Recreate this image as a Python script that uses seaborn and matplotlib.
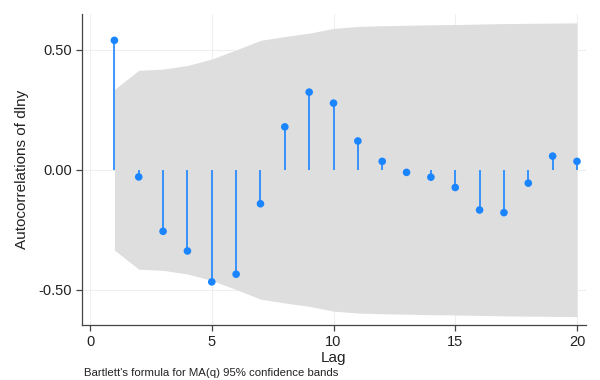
import numpy as np
import pandas as pd
from matplotlib import pyplot as plt
import seaborn as sns

# values
lags = list(range(1, 21))
acf = [0.54, -0.03, -0.257, -0.339, -0.468, -0.436, -0.142, 0.179, 0.324, 0.278,
       0.12, 0.035, -0.011, -0.031, -0.074, -0.168, -0.179, -0.056, 0.057, 0.035]
band = [0.335, 0.415, 0.42, 0.435, 0.462, 0.50, 0.54, 0.556, 0.57, 0.59,
        0.598, 0.601, 0.603, 0.605, 0.606, 0.608, 0.61, 0.611, 0.612, 0.613]
xticks = [0, 5, 10, 15, 20]
yticks = [-0.5, 0.0, 0.5]
ytick_labels = ['-0.50', '0.00', '0.50']

data = pd.DataFrame({'lag': lags, 'acf': acf, 'band': band})

sns.set_style('white')
plt.rcParams['font.family'] = ['Liberation Sans', 'DejaVu Sans']

blue = '#1a85ff'
fig = plt.figure(figsize=(6, 3.8), dpi=100)
ax = fig.add_axes([82/600, 1 - 325/380, (586 - 82)/600, (325 - 14)/380])

# faint grid under the band
for t in yticks:
    ax.axhline(t, color='#efefef', lw=0.8, zorder=0)
for t in xticks:
    ax.axvline(t, color='#efefef', lw=0.8, zorder=0)

ax.fill_between(data['lag'], -data['band'], data['band'],
                color='#dedede', lw=0, zorder=1)
ax.vlines(data['lag'], 0, data['acf'], color=blue, lw=1.2, zorder=2)
sns.scatterplot(x='lag', y='acf', data=data, ax=ax, color=blue,
                s=30, edgecolor='none', zorder=3)

ax.set_xlim(-0.33, 20.37)
ax.set_ylim(-0.648, 0.65)
ax.set_xticks(xticks)
ax.set_yticks(yticks)
ax.set_yticklabels(ytick_labels)
ax.tick_params(axis='both', direction='out', length=4, width=0.9,
               bottom=True, left=True,
               color='#444444', labelsize=10.5, labelcolor='#222222', pad=3)
ax.set_xlabel('Lag', fontsize=11, color='#222222', labelpad=1.5)
ax.set_ylabel('Autocorrelations of dlny', fontsize=11, color='#222222', labelpad=7)

sns.despine(ax=ax)
for s in ['left', 'bottom']:
    ax.spines[s].set_color('#444444')
    ax.spines[s].set_linewidth(0.9)

fig.text(84/600, 1 - 368.5/380, "Bartlett's formula for MA(q) 95% confidence bands",
         fontsize=8.2, color='#222222', va='top', ha='left')

fig.savefig('out.png', dpi=100)
